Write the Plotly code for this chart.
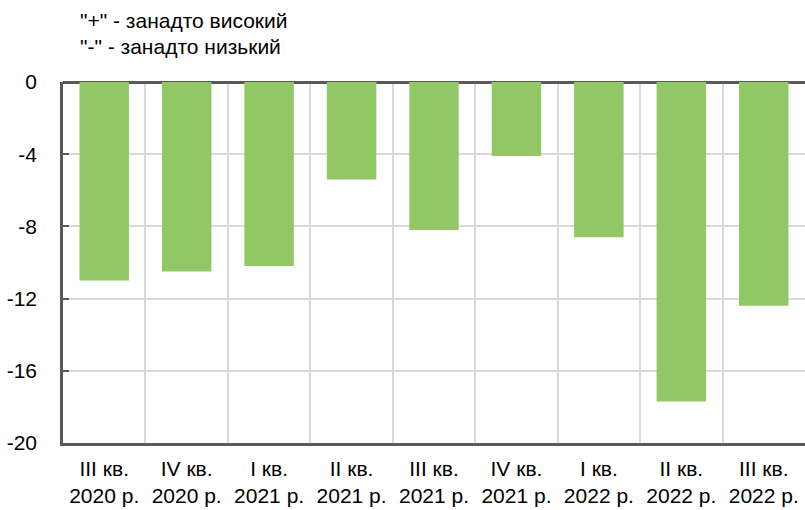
import plotly.graph_objects as go

categories = ["III кв.<br>2020 р.", "IV кв.<br>2020 р.", "I кв.<br>2021 р.", "II кв.<br>2021 р.",
              "III кв.<br>2021 р.", "IV кв.<br>2021 р.", "I кв.<br>2022 р.", "II кв.<br>2022 р.",
              "III кв.<br>2022 р."]
values = [-11.0, -10.5, -10.2, -5.4, -8.2, -4.1, -8.6, -17.7, -12.4]
y_ticks = [0, -4, -8, -12, -16, -20]
legend_lines = ['"+" - занадто високий', '"-" - занадто низький']

font = "Liberation Sans, Arial, sans-serif"
FS = 21

fig = go.Figure(go.Bar(x=categories, y=values, marker=dict(color="#92C765", line=dict(width=0)),
                       width=0.6))

fig.update_layout(
    width=805, height=510,
    margin=dict(l=63, r=0, t=82, b=67),
    plot_bgcolor="white", paper_bgcolor="white",
    font=dict(family=font, size=FS, color="#000000"),
    showlegend=False,
    bargap=0.4,
)
fig.update_xaxes(
    type="category", tickson="boundaries", showgrid=True, gridcolor="#d9d9d9", gridwidth=1.5,
    showline=True, linecolor="#595959", linewidth=2.5, ticks="", tickfont=dict(size=FS),
    ticklabelstandoff=5,
)
fig.update_yaxes(
    range=[-20, 0], tickvals=y_ticks, ticktext=[str(v) for v in y_ticks],
    showgrid=True, gridcolor="#d9d9d9", gridwidth=1.5,
    showline=True, linecolor="#595959", linewidth=2.5,
    zeroline=True, zerolinecolor="#595959", zerolinewidth=2.5,
    ticks="inside", ticklen=6, tickcolor="#595959", tickwidth=1.5,
    ticklabelstandoff=19, tickfont=dict(size=FS),
)
for i, t in enumerate(legend_lines):
    fig.add_annotation(text=t, xref="paper", yref="paper", x=(78 - 63) / 742, y=1 + (82 - 20 - i * 26) / 361,
                       xanchor="left", yanchor="middle", showarrow=False, font=dict(size=FS, family=font))

fig.write_html("out.html", config={"displayModeBar": False},
               post_script="document.body.style.margin='0px';")
